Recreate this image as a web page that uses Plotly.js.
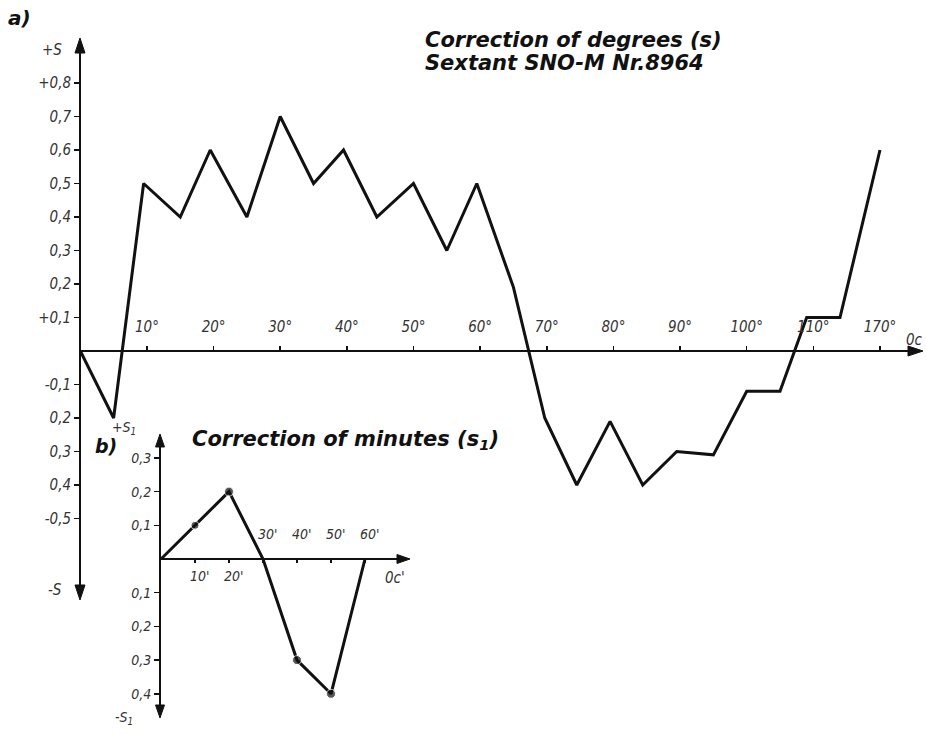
<!DOCTYPE html>
<html>
<head>
<meta charset="utf-8">
<script src="https://cdn.plot.ly/plotly-3.0.1.min.js"></script>
<style>html,body{margin:0;padding:0;background:#fff;}#chart{width:926px;height:734px;}</style>
</head>
<body>
<div id="chart"></div>
<script>
// a) Correction of degrees (s)
const degX = [0, 5, 9.5, 15, 19.5, 25, 30, 35, 39.5, 44.5, 50, 55, 59.5, 62.5, 65, 69.7, 74.5, 79.5, 84.4, 89.5, 95, 100, 105, 109, 114, 120];
const degY = [0, -0.2, 0.5, 0.4, 0.6, 0.4, 0.7, 0.5, 0.6, 0.4, 0.5, 0.3, 0.5, 0.33, 0.19, -0.2, -0.4, -0.21, -0.4, -0.3, -0.31, -0.12, -0.12, 0.1, 0.1, 0.6];
const degTickVals = [10, 20, 30, 40, 50, 60, 70, 80, 90, 100, 110, 120];
const degTickText = ["10°", "20°", "30°", "40°", "50°", "60°", "70°", "80°", "90°", "100°", "110°", "170°"];
const sTickVals = [0.8, 0.7, 0.6, 0.5, 0.4, 0.3, 0.2, 0.1, -0.1, -0.2, -0.3, -0.4, -0.5];
const sTickText = ["+0,8", "0,7", "0,6", "0,5", "0,4", "0,3", "0,2", "+0,1", "-0,1", "0,2", "0,3", "0,4", "-0,5"];

// b) Correction of minutes (s1)
const minX = [0, 10, 20, 30, 40, 50, 60];
const minY = [0, 0.1, 0.2, 0, -0.3, -0.4, 0];
const minTickVals = [10, 20, 30, 40, 50, 60];
const minTickText = ["10'", "20'", "30'", "40'", "50'", "60'"];
const s1TickVals = [0.3, 0.2, 0.1, -0.1, -0.2, -0.3, -0.4];
const s1TickText = ["0,3", "0,2", "0,1", "0,1", "0,2", "0,3", "0,4"];

const W = 926, H = 734;
const px = v => v / W;
const py = v => (H - v) / H;

const tickFont = {family: "DejaVu Sans Condensed", size: 15, color: "#333", style: "italic"};
const smallFont = {family: "DejaVu Sans Condensed", size: 14, color: "#333", style: "italic"};
const titleFont = {family: "DejaVu Sans", size: 21, color: "#111", style: "italic", weight: "bold"};

const traces = [
  {x: degX, y: degY, xaxis: "x", yaxis: "y", type: "scatter", mode: "lines",
   line: {color: "#111", width: 3}, hoverinfo: "skip"},
  {x: minX, y: minY, xaxis: "x2", yaxis: "y2", type: "scatter", mode: "lines+markers",
   line: {color: "#111", width: 3}, marker: {color: "#111", size: [0, 8, 9, 0, 9, 9, 0]}, hoverinfo: "skip"}
];

// arrowheads of the axes (triangles, in paper coordinates)
function tri(tx, ty, dir, len, half) {
  let p;
  if (dir === "up") p = [[tx, ty], [tx - half, ty + len], [tx + half, ty + len]];
  else if (dir === "down") p = [[tx, ty], [tx - half, ty - len], [tx + half, ty - len]];
  else p = [[tx, ty], [tx - len, ty - half], [tx - len, ty + half]];
  const path = "M" + p.map(q => px(q[0]).toFixed(5) + "," + py(q[1]).toFixed(5)).join(" L") + " Z";
  return {type: "path", xref: "paper", yref: "paper", path: path, fillcolor: "#111", line: {color: "#111", width: 1}};
}
const shapes = [
  tri(80, 38, "up", 15, 5), tri(80, 600, "down", 15, 5), tri(923, 351, "right", 15, 5),
  tri(160, 434, "up", 13, 4.5), tri(160, 718, "down", 13, 4.5), tri(410, 559, "right", 13, 4.5)
];

function label(text, xp, yp, xanchor, font, yanchor) {
  return {xref: "paper", yref: "paper", x: px(xp), y: py(yp), text: text, showarrow: false,
          xanchor: xanchor, yanchor: yanchor || "middle", font: font};
}

const annotations = [
  label("a)", 6, 18, "left", {family: "DejaVu Sans", size: 20, color: "#111", style: "italic", weight: "bold"}),
  label("b)", 93, 446, "left", {family: "DejaVu Sans", size: 19, color: "#111", style: "italic", weight: "bold"}),
  label("Correction of degrees (s)", 423, 40, "left", titleFont),
  label("Sextant SNO-M Nr.8964", 423, 63, "left", titleFont),
  label("Correction of minutes (s<sub>1</sub>)", 190, 440, "left", titleFont),
  label("+S", 64, 50, "right", tickFont),
  label("-S", 64, 590, "right", tickFont),
  label("+S<sub>1</sub>", 138, 428, "right", smallFont),
  label("-S<sub>1</sub>", 135, 718, "right", smallFont),
  label("0c", 904, 340, "left", tickFont),
  label("0c'", 383, 578, "left", tickFont)
];
// inset x tick labels: 10', 20' below the axis, the others above it
for (let i = 0; i < minTickVals.length; i++) {
  const below = minTickVals[i] < 30;
  annotations.push({xref: "x2", yref: "y2", x: minTickVals[i], y: below ? -0.02 : 0.045,
    yanchor: below ? "top" : "bottom", xanchor: "center", xshift: 4,
    text: minTickText[i], showarrow: false, font: smallFont});
}

const axLine = {showline: true, linecolor: "#111", linewidth: 2, showgrid: false, zeroline: false,
                ticks: "outside", ticklen: 5, tickwidth: 1.5, tickcolor: "#111", automargin: false, fixedrange: true};

const layout = {
  width: W, height: H, margin: {l: 0, r: 0, t: 0, b: 0},
  paper_bgcolor: "#fff", plot_bgcolor: "rgba(0,0,0,0)", showlegend: false,
  xaxis: Object.assign({}, axLine, {domain: [px(80), px(912)], range: [-0.045, (912 - 80.3) / 6.664],
    anchor: "free", position: py(351), side: "top", tickvals: degTickVals, ticktext: degTickText,
    tickfont: tickFont, ticklen: 4, ticklabelstandoff: 8}),
  yaxis: Object.assign({}, axLine, {domain: [py(590), py(48)], range: [-(590 - 351) / 335, (351 - 48) / 335],
    anchor: "free", position: px(80), side: "left", tickvals: sTickVals, ticktext: sTickText,
    tickfont: tickFont}),
  xaxis2: Object.assign({}, axLine, {domain: [px(160), px(400)], range: [-(161 - 160) / 3.4, (400 - 161) / 3.4],
    anchor: "free", position: py(559), tickvals: minTickVals, showticklabels: false, ticklen: 3}),
  yaxis2: Object.assign({}, axLine, {domain: [py(708), py(444)], range: [-(708 - 559) / 337, (559 - 444) / 337],
    anchor: "free", position: px(160), side: "left", tickvals: s1TickVals, ticktext: s1TickText,
    tickfont: smallFont}),
  shapes: shapes,
  annotations: annotations
};

Plotly.newPlot("chart", traces, layout, {displayModeBar: false, staticPlot: true});
</script>
</body>
</html>
